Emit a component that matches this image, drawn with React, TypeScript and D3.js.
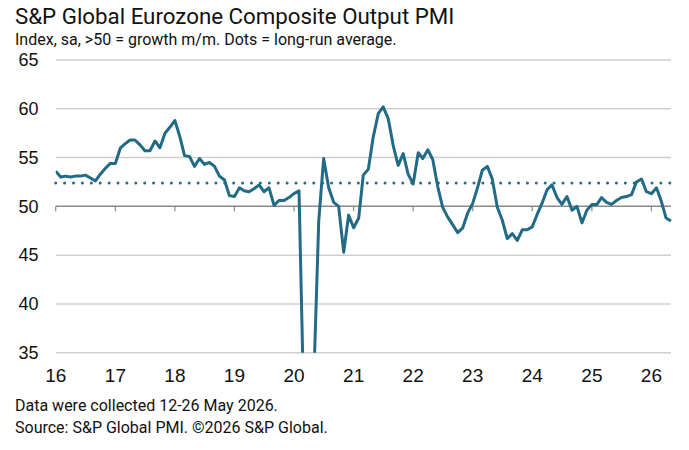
import * as d3 from "d3";

// Eurozone composite output PMI, monthly, Jan 2016 - May 2026
const startYear = 2016;
const pmi2016 = [53.6, 53.0, 53.1, 53.0, 53.1, 53.1, 53.2, 52.9, 52.6, 53.3, 53.9, 54.4];
const pmi2017 = [54.4, 56.0, 56.4, 56.8, 56.8, 56.3, 55.7, 55.7, 56.7, 56.0, 57.5, 58.1];
const pmi2018 = [58.8, 57.1, 55.2, 55.1, 54.1, 54.9, 54.3, 54.5, 54.1, 53.1, 52.7, 51.1];
const pmi2019 = [51.0, 51.9, 51.6, 51.5, 51.8, 52.2, 51.5, 51.9, 50.1, 50.6, 50.6, 50.9];
const pmi2020 = [51.3, 51.6, 29.7, 13.6, 31.9, 48.5, 54.9, 51.9, 50.4, 50.0, 45.3, 49.1];
const pmi2021 = [47.8, 48.8, 53.2, 53.8, 57.1, 59.5, 60.2, 59.0, 56.2, 54.2, 55.4, 53.3];
const pmi2022 = [52.3, 55.5, 54.9, 55.8, 54.8, 52.0, 49.9, 48.9, 48.1, 47.3, 47.8, 49.3];
const pmi2023 = [50.3, 52.0, 53.7, 54.1, 52.8, 49.9, 48.6, 46.7, 47.2, 46.5, 47.6, 47.6];
const pmi2024 = [47.9, 49.2, 50.3, 51.7, 52.2, 50.9, 50.2, 51.0, 49.6, 50.0, 48.3, 49.6];
const pmi2025 = [50.2, 50.2, 50.9, 50.4, 50.2, 50.6, 50.9, 51.0, 51.2, 52.5, 52.8, 51.5];
const pmi2026 = [51.3, 51.9, 50.6, 48.8, 48.5];

const longRunAverage = 52.4;
const yTicks = [35, 40, 45, 50, 55, 60, 65];
const yearLabels = ["16", "17", "18", "19", "20", "21", "22", "23", "24", "25", "26"];

const values = [
  ...pmi2016, ...pmi2017, ...pmi2018, ...pmi2019, ...pmi2020, ...pmi2021,
  ...pmi2022, ...pmi2023, ...pmi2024, ...pmi2025, ...pmi2026,
];
const data = values.map((v, i) => ({ date: new Date(startYear, i, 1), value: v }));

const W = 689;
const H = 450;
const left = 55.7;
const right = 671;
const top = 60;
const bottom = 352.7;

const color = "#226b86";
const font = "Roboto, 'Liberation Sans', Arial, sans-serif";
const numFont = "'Liberation Sans', Arial, sans-serif";

export default function App() {
  const x = d3
    .scaleTime()
    .domain([data[0].date, data[data.length - 1].date])
    .range([left, right]);
  const y = d3.scaleLinear().domain([35, 65]).range([bottom, top]);

  const line = d3
    .line<{ date: Date; value: number }>()
    .x((d) => x(d.date))
    .y((d) => y(d.value));

  return (
    <svg
      width={W}
      height={H}
      style={{ position: "absolute", left: 0, top: 0, background: "white" }}
    >
      <defs>
        <clipPath id="plot">
          <rect x={left} y={top - 10} width={right - left + 5} height={bottom - top + 10} />
        </clipPath>
      </defs>

      <text x={15} y={24} fontFamily={font} fontSize={22.3} fill="#111">
        S&amp;P Global Eurozone Composite Output PMI
      </text>
      <text x={15} y={45} fontFamily={font} fontSize={16} fill="#111">
        Index, sa, &gt;50 = growth m/m. Dots = long-run average.
      </text>

      {yTicks.map((t) => (
        <g key={t}>
          <line
            x1={left}
            x2={right}
            y1={y(t)}
            y2={y(t)}
            stroke={t === 50 ? "#8a8a8a" : "#cfcfcf"}
            strokeWidth={1.5}
          />
          <text
            x={38.5}
            y={y(t)}
            dy="0.35em"
            textAnchor="end"
            fontFamily={numFont}
            fontSize={18}
            fill="#111"
          >
            {t}
          </text>
        </g>
      ))}

      {yearLabels.map((lab, i) => {
        const xp = x(new Date(startYear + i, 0, 1));
        return (
          <g key={lab}>
            <line x1={xp} x2={xp} y1={y(50)} y2={y(50) + 5} stroke="#8a8a8a" strokeWidth={1.2} />
            <text
              x={xp}
              y={382}
              textAnchor="middle"
              fontFamily={numFont}
              fontSize={19}
              fill="#111"
            >
              {lab}
            </text>
          </g>
        );
      })}

      <line
        x1={left}
        x2={right}
        y1={y(longRunAverage)}
        y2={y(longRunAverage)}
        stroke={color}
        strokeWidth={3}
        strokeLinecap="round"
        strokeDasharray="0 8.9"
      />

      <path
        d={line(data) ?? ""}
        fill="none"
        stroke={color}
        strokeWidth={3}
        strokeLinejoin="round"
        clipPath="url(#plot)"
      />

      <text x={15} y={411} fontFamily={font} fontSize={16} fill="#111">
        Data were collected 12-26 May 2026.
      </text>
      <text x={15} y={432.5} fontFamily={font} fontSize={16} fill="#111">
        Source: S&amp;P Global PMI. ©2026 S&amp;P Global.
      </text>
    </svg>
  );
}
